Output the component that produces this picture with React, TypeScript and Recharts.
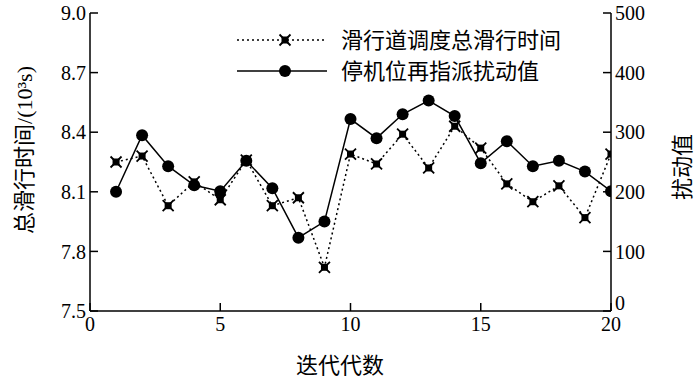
import {
  Label,
  Legend,
  Line,
  LineChart,
  XAxis,
  YAxis
} from 'recharts';

const generations = [1, 2, 3, 4, 5, 6, 7, 8, 9, 10, 11, 12, 13, 14, 15, 16, 17, 18, 19, 20];
const taxiTime = [8.25, 8.28, 8.03, 8.15, 8.06, 8.26, 8.03, 8.07, 7.72, 8.29, 8.24, 8.39, 8.22, 8.43, 8.32, 8.14, 8.05, 8.13, 7.97, 8.29];
const disturbance = [200, 295, 243, 211, 201, 252, 206, 123, 150, 322, 290, 330, 353, 327, 248, 285, 243, 252, 234, 201];

const xTicks = [0, 5, 10, 15, 20];
const leftTicks = [7.5, 7.8, 8.1, 8.4, 8.7, 9.0];
const rightTicks = [0, 100, 200, 300, 400, 500];

const taxiName = '滑行道调度总滑行时间';
const disturbName = '停机位再指派扰动值';

const data = generations.map((g, i) => ({
  gen: g,
  taxi: taxiTime[i],
  dist: disturbance[i]
}));

const FONT = 'Liberation Serif, Times New Roman, DejaVu Serif, Noto Sans CJK SC, serif';
const tickStyle = { fontFamily: FONT, fontSize: 20, fill: '#000' };

function Star(props: any) {
  const { cx, cy } = props;
  if (cx == null || cy == null) return null;
  return (
    <g>
      <rect x={cx - 3.5} y={cy - 3.5} width={7} height={7} fill='#000' />
      <path
        d={`M${cx - 5.5},${cy - 5.5}L${cx + 5.5},${cy + 5.5}M${cx + 5.5},${cy - 5.5}L${cx - 5.5},${cy + 5.5}`}
        stroke='#000'
        strokeWidth={1.8}
      />
    </g>
  );
}

function Dot(props: any) {
  const { cx, cy } = props;
  if (cx == null || cy == null) return null;
  return <circle cx={cx} cy={cy} r={6} fill='#000' />;
}

// right axis labels; the 0 sits a bit higher so it clears the "20" below
function RightTick(props: any) {
  const { x, y, payload } = props;
  const lift = payload.value === 0 ? -8 : 0;
  return (
    <text x={x} y={y + lift} dy='0.355em' textAnchor='start' fontFamily={FONT} fontSize={20} fill='#000'>
      {payload.value}
    </text>
  );
}

function LegendBox() {
  const rows = [
    { name: taxiName, dash: '2 3', marker: <Star cx={48} cy={0} /> },
    { name: disturbName, dash: undefined, marker: <Dot cx={48} cy={0} /> }
  ];
  return (
    <svg width={380} height={70} style={{ overflow: 'visible', display: 'block' }}>
      {rows.map((r, i) => (
        <g key={r.name} transform={`translate(0, ${10 + i * 31})`}>
          <line x1={0} y1={0} x2={90} y2={0} stroke='#000' strokeWidth={1.5} strokeDasharray={r.dash} />
          {r.marker}
          <text x={104} y={0} dominantBaseline='central' fontFamily={FONT} fontSize={22} fill='#000'>
            {r.name}
          </text>
        </g>
      ))}
    </svg>
  );
}

export default function App() {
  return (
    <div style={{ position: 'absolute', left: 0, top: 0, background: '#fff', fontFamily: FONT }}>
      <LineChart
        width={700}
        height={382}
        data={data}
        margin={{ top: 13, right: 29, bottom: 41, left: 30 }}
      >
        <XAxis
          dataKey='gen'
          type='number'
          domain={[0, 20]}
          ticks={xTicks}
          allowDataOverflow
          stroke='#000'
          strokeWidth={1.5}
          tickSize={-8}
          tickMargin={14}
          tick={tickStyle}
          height={30}
        >
          <Label
            content={() => (
              <text x={340} y={365} textAnchor='middle' dominantBaseline='central' fontFamily={FONT} fontSize={22} fill='#000'>
                迭代代数
              </text>
            )}
          />
        </XAxis>
        <XAxis
          xAxisId='top'
          orientation='top'
          dataKey='gen'
          type='number'
          domain={[0, 20]}
          stroke='#000'
          strokeWidth={1.5}
          tick={false}
          tickLine={false}
          height={0}
        />
        <YAxis
          yAxisId='left'
          domain={[7.5, 9.0]}
          ticks={leftTicks}
          allowDataOverflow
          stroke='#000'
          strokeWidth={1.5}
          tickSize={-8}
          tickMargin={12}
          tick={tickStyle}
          tickFormatter={(v) => Number(v).toFixed(1)}
          width={60}
        >
          <Label
            content={() => (
              <text x={24} y={150} transform='rotate(-90 24 150)' textAnchor='middle' dominantBaseline='central' fontFamily={FONT} fontSize={22} fill='#000'>
                总滑行时间/(10³s)
              </text>
            )}
          />
        </YAxis>
        <YAxis
          yAxisId='right'
          orientation='right'
          domain={[0, 500]}
          ticks={rightTicks}
          stroke='#000'
          strokeWidth={1.5}
          tickSize={-8}
          tickMargin={12}
          tick={<RightTick />}
          width={60}
        >
          <Label
            content={() => (
              <text x={682} y={167} transform='rotate(-90 682 167)' textAnchor='middle' dominantBaseline='central' fontFamily={FONT} fontSize={22} fill='#000'>
                扰动值
              </text>
            )}
          />
        </YAxis>
        <Legend
          layout='vertical'
          verticalAlign='middle'
          align='center'
          content={() => <LegendBox />}
          wrapperStyle={{ top: 30, left: 237, width: 380, height: 70 }}
        />
        <Line
          yAxisId='left'
          dataKey='taxi'
          name={taxiName}
          type='linear'
          stroke='#000'
          strokeWidth={1.5}
          strokeDasharray='2 3'
          dot={<Star />}
          activeDot={false}
          isAnimationActive={false}
        />
        <Line
          yAxisId='right'
          dataKey='dist'
          name={disturbName}
          type='linear'
          stroke='#000'
          strokeWidth={1.5}
          dot={<Dot />}
          activeDot={false}
          isAnimationActive={false}
        />
      </LineChart>
    </div>
  );
}
